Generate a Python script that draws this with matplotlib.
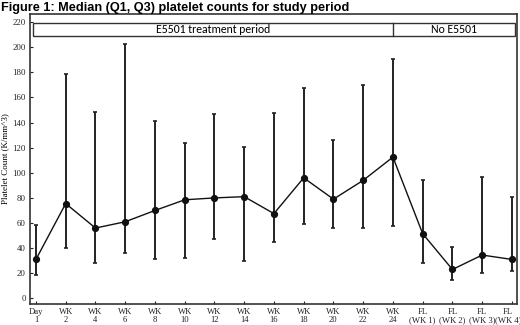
import matplotlib

matplotlib.use("Agg")

import matplotlib.pyplot as plt
import numpy as np
from matplotlib.patches import Rectangle
from matplotlib.transforms import ScaledTranslation

# values (K/mm^3)
visits = ["Day\n1", "WK\n2", "WK\n4", "WK\n6", "WK\n8", "WK\n10", "WK\n12", "WK\n14",
          "WK\n16", "WK\n18", "WK\n20", "WK\n22", "WK\n24",
          "FL\n(WK 1)", "FL\n(WK 2)", "FL\n(WK 3)", "FL\n(WK 4)"]
median = [31, 75.5, 56, 61, 70, 78.5, 80, 81, 67.5, 96, 79, 94, 112.5, 51.5, 23, 34.5, 31]
q1 = [18.5, 40, 28.5, 36.5, 31, 32.5, 47, 30, 45, 59.5, 56, 56, 57.5, 28.5, 14.5, 20.5, 22]
q3 = [58.5, 178.5, 148.5, 202.5, 141, 123.5, 146.5, 120.5, 148, 167.5, 126.5, 170, 191, 94, 41, 96.5, 80.5]
y_ticks = list(range(0, 221, 20))
periods = ["E5501 treatment period", "No E5501"]
period_split = 12  # index of WK 24

SERIF = ["Liberation Serif", "DejaVu Serif"]
SANS = ["Carlito", "Liberation Sans", "DejaVu Sans"]

fig = plt.figure(figsize=(5.2, 3.25), dpi=100)
ax = fig.add_axes([0.0577, 0.0646, 0.9365, 0.8924])

x = np.arange(len(visits))
med = np.array(median)
lower = med - np.array(q1)
upper = np.array(q3) - med

ax.errorbar(x, med, yerr=[lower, upper], fmt="none", ecolor="#222222",
            elinewidth=1.4, capsize=1.6, capthick=1.2, zorder=2)
ax.plot(x, med, color="#111111", linewidth=1.0, marker="o", markersize=4.2, zorder=3)

# header band with treatment periods
top, bottom = 219.6, 209.0
left_edge, right_edge = -0.1, 16.12
ax.add_patch(Rectangle((left_edge, bottom), right_edge - left_edge, top - bottom,
                       fill=False, edgecolor="#333333", linewidth=1.0, zorder=4))
ax.plot([period_split, period_split], [bottom, top], color="#333333", linewidth=1.0, zorder=4)
ax.text((left_edge + period_split) / 2, (top + bottom) / 2 - 0.5, periods[0],
        ha="center", va="center", fontsize=8.5, family=SANS)
ax.text((period_split + right_edge) / 2, (top + bottom) / 2 - 0.5, periods[1],
        ha="center", va="center", fontsize=8.5, family=SANS)

ax.set_xlim(-0.2, 16.17)
ax.set_ylim(-4.5, 226.5)
ax.set_xticks(x)
ax.set_xticklabels(visits, family=SERIF, fontsize=6.2, linespacing=0.95)
ax.set_yticks(y_ticks)
ax.set_yticklabels([str(t) for t in y_ticks], family=SERIF, fontsize=6.3)
ax.tick_params(direction="in", length=2.5, width=0.8, pad=3, colors="#222222")
ax.set_ylabel("Platelet Count (K/mm^3)", family=SERIF, fontsize=6.5, labelpad=2)

# nudge the last tick label so it stays inside the canvas
last = ax.xaxis.get_major_ticks()[-1].label1
last.set_transform(last.get_transform() + ScaledTranslation(-4 / 100, 0, fig.dpi_scale_trans))

for spine in ax.spines.values():
    spine.set_linewidth(1.2)
    spine.set_color("#333333")

fig.text(0.002, 0.976, "Figure 1: Median (Q1, Q3) platelet counts for study period",
         ha="left", va="center", fontsize=9.2, fontweight="bold",
         family=["Liberation Sans", "DejaVu Sans"])

fig.savefig("out.png", dpi=100)
